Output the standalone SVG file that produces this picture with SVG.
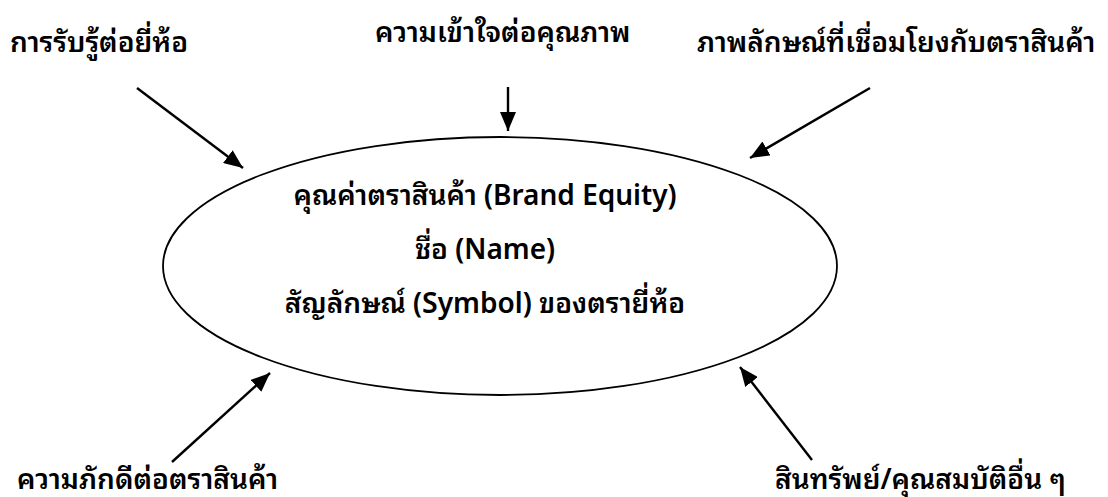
<svg xmlns="http://www.w3.org/2000/svg" width="1108" height="497" viewBox="0 0 1108 497">
<style>
text{font-family:"Noto Sans Thai Looped","Noto Sans","Noto Sans Thai","DejaVu Sans",sans-serif;font-size:28px;font-weight:600;fill:#000}
.c{text-anchor:middle}
.ln{stroke:#000;stroke-width:2.4;fill:none;marker-end:url(#ah)}
</style>
<defs>
<marker id="ah" markerUnits="userSpaceOnUse" markerWidth="20" markerHeight="16" viewBox="0 0 20 16" refX="19" refY="8" orient="auto">
<path d="M0,0 L19,8 L0,16 Z" fill="#000"/>
</marker>
</defs>
<rect width="1108" height="497" fill="#fff"/>
<g id="center">
<ellipse cx="500" cy="266" rx="337" ry="129" fill="none" stroke="#000" stroke-width="1.8"/>
<text class="c" x="485" y="205">คุณค่าตราสินค้า (Brand Equity)</text>
<text class="c" x="485" y="259">ชื่อ (Name)</text>
<text class="c" x="485" y="313">สัญลักษณ์ (Symbol) ของตรายี่ห้อ</text>
</g>
<g id="n1"><text x="10" y="52">การรับรู้ต่อยี่ห้อ</text></g>
<g id="n2"><text x="375" y="42">ความเข้าใจต่อคุณภาพ</text></g>
<g id="n3"><text x="697" y="52">ภาพลักษณ์ที่เชื่อมโยงกับตราสินค้า</text></g>
<g id="n4"><text x="17" y="489">ความภักดีต่อตราสินค้า</text></g>
<g id="n5"><text x="775" y="489">สินทรัพย์/คุณสมบัติอื่น ๆ</text></g>
<g id="connectors">
<line class="ln" x1="137" y1="88" x2="243" y2="168"/>
<line class="ln" x1="508" y1="87" x2="508" y2="131"/>
<line class="ln" x1="870" y1="88" x2="750" y2="158"/>
<line class="ln" x1="172" y1="462" x2="270" y2="373"/>
<line class="ln" x1="812" y1="460" x2="740" y2="367"/>
</g>
</svg>
